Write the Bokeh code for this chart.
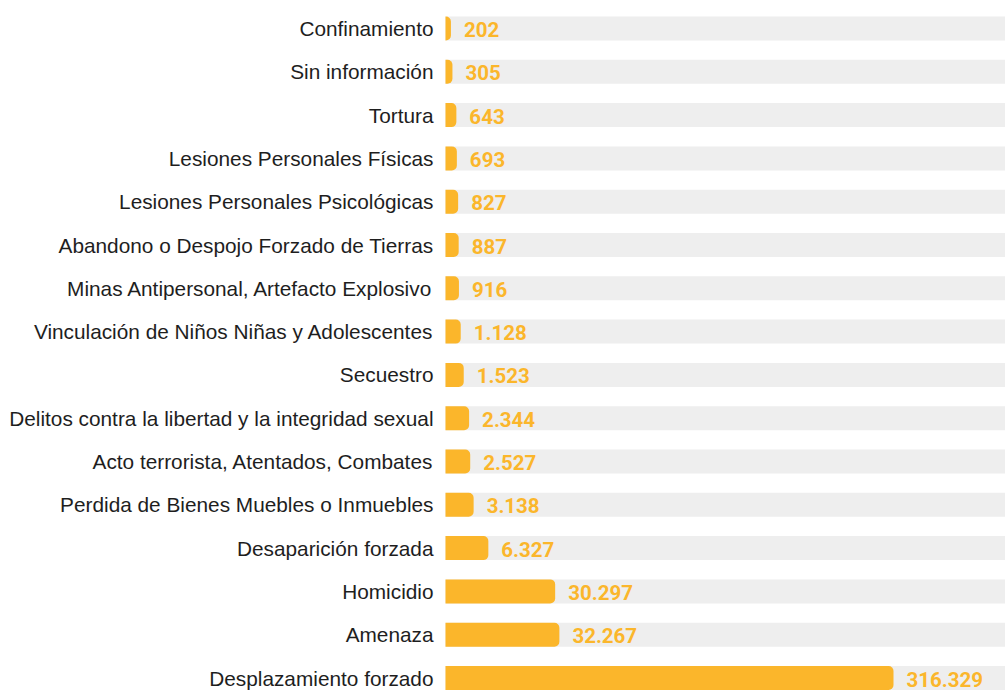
from bokeh.plotting import figure
from bokeh.models import ColumnDataSource, Range1d
from bokeh.core.properties import value
from bokeh.embed import file_html
from bokeh.resources import INLINE

categories = [
    "Confinamiento",
    "Sin información",
    "Tortura",
    "Lesiones Personales Físicas",
    "Lesiones Personales Psicológicas",
    "Abandono o Despojo Forzado de Tierras",
    "Minas Antipersonal, Artefacto Explosivo",
    "Vinculación de Niños Niñas y Adolescentes",
    "Secuestro",
    "Delitos contra la libertad y la integridad sexual",
    "Acto terrorista, Atentados, Combates",
    "Perdida de Bienes Muebles o Inmuebles",
    "Desaparición forzada",
    "Homicidio",
    "Amenaza",
    "Desplazamiento forzado",
]
values = [202, 305, 643, 693, 827, 887, 916, 1128, 1523, 2344, 2527, 3138, 6327, 30297, 32267, 316329]

EXP = 0.6  # bar length scale exponent (power scale)

W, H = 1005, 692
BAR_START_PX = 445      # frame px where bars start
BAR_MAX_PX = 448        # length of the longest bar in px
ROW_PX = 43.3
FIRST_ROW_PX = 28

lengths = [v ** EXP for v in values]
u = max(lengths) / BAR_MAX_PX
rows = list(range(len(categories)))
labels = [f"{v:,}".replace(",", ".") for v in values]

src = ColumnDataSource(dict(
    y=rows, cat=categories, length=lengths, label=labels,
))

x_start = -BAR_START_PX * u
x_end = (W - BAR_START_PX) * u
y_top = -FIRST_ROW_PX / ROW_PX
y_bottom = (H - FIRST_ROW_PX) / ROW_PX
bar_h = 24 / ROW_PX

p = figure(width=W, height=H, output_backend="svg", toolbar_location=None,
           x_range=Range1d(x_start, x_end), y_range=Range1d(y_bottom, y_top),
           min_border=0, outline_line_color=None)
p.axis.visible = False
p.grid.visible = False
p.background_fill_color = "white"

# background track
p.hbar(y="y", left=0, right=x_end, height=bar_h, source=src,
       fill_color="#EEEEEE", line_color=None)
# value bars
p.hbar(y="y", left=0, right="length", height=bar_h, source=src,
       fill_color="#FBB62B", line_color=None, border_radius=(0, 5, 5, 0))

# category labels
p.text(x=0, y="y", text="cat", source=src, x_offset=-12,
       text_align="right", text_baseline="middle",
       text_font=value("Liberation Sans"), text_font_size="20.8px",
       text_color="#1E1E1E")

# value labels
p.text(x="length", y="y", text="label", source=src, x_offset=13, y_offset=1,
       text_align="left", text_baseline="middle",
       text_font=value("Roboto"), text_font_style="bold", text_font_size="20.5px",
       text_color="#FBB62B")

open("out.html", "w").write(file_html(p, INLINE))
